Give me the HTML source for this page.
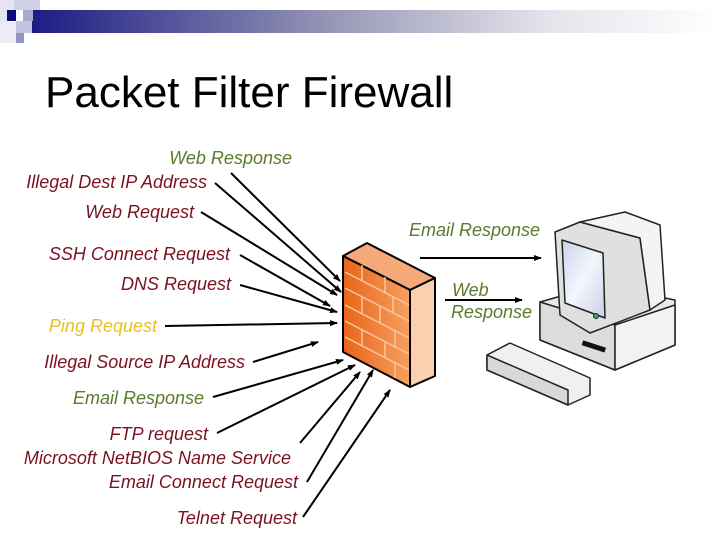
<!DOCTYPE html>
<html><head><meta charset="utf-8"><style>
html,body{margin:0;padding:0;background:#fff;width:720px;height:540px;overflow:hidden}
svg text{font-family:"Liberation Sans",Arial,sans-serif}
.l{font-size:18px;font-style:italic;text-anchor:end}
.r{fill:#7a1222}.g{fill:#5b7a2c}.y{fill:#e8c020}
</style></head><body>
<svg width="720" height="540" viewBox="0 0 720 540" xmlns="http://www.w3.org/2000/svg">
<defs>
<linearGradient id="bar" x1="0" x2="1"><stop offset="0" stop-color="#1c1c84"/><stop offset="0.45" stop-color="#9a9ab8"/><stop offset="0.75" stop-color="#e4e4ec"/><stop offset="1" stop-color="#fff"/></linearGradient>
<linearGradient id="fw" x1="0" y1="0" x2="1" y2="0"><stop offset="0" stop-color="#e8641a"/><stop offset="1" stop-color="#f7a060"/></linearGradient>
<linearGradient id="scr" x1="0" y1="0" x2="1" y2="1"><stop offset="0" stop-color="#c8d4ec"/><stop offset="0.5" stop-color="#f4f6fc"/><stop offset="1" stop-color="#c8d0e8"/></linearGradient>
<marker id="a" markerWidth="8" markerHeight="8" refX="7" refY="4" orient="auto" markerUnits="userSpaceOnUse"><path d="M0,1 L8,4 L0,7z" fill="#000"/></marker>
</defs>
<rect x="32" y="10" width="688" height="23" fill="url(#bar)"/>
<rect x="0" y="0" width="14" height="10" fill="#e4e4f2"/>
<rect x="14" y="0" width="26" height="10" fill="#d0d0e8"/>
<rect x="0" y="10" width="7" height="12" fill="#e4e4f2"/>
<rect x="7" y="10" width="9" height="11" fill="#0c0c7c"/>
<rect x="23" y="10" width="10" height="11" fill="#a8a8d0"/>
<rect x="16" y="21" width="16" height="12" fill="#c4c4e0"/>
<rect x="16" y="33" width="8" height="10" fill="#9494c4"/>
<rect x="0" y="22" width="16" height="21" fill="#ececf6"/>
<text x="45" y="107" font-size="44" fill="#000">Packet Filter Firewall</text>

<g class="l">
<text x="292" y="164" class="g">Web Response</text>
<text x="207" y="188" class="r">Illegal Dest IP Address</text>
<text x="194" y="218" class="r">Web Request</text>
<text x="230" y="260" class="r">SSH Connect Request</text>
<text x="231" y="290" class="r">DNS Request</text>
<text x="157" y="332" class="y">Ping Request</text>
<text x="245" y="368" class="r">Illegal Source IP Address</text>
<text x="204" y="404" class="g">Email Response</text>
<text x="208" y="440" class="r">FTP request</text>
<text x="291" y="464" class="r">Microsoft  NetBIOS Name Service</text>
<text x="298" y="488" class="r">Email Connect Request</text>
<text x="297" y="524" class="r">Telnet Request</text>
<text x="540" y="236" class="g">Email Response</text>
<text x="452" y="296" class="g" text-anchor="start">Web</text>
<text x="532" y="318" class="g">Response</text>
</g>

<g stroke="#000" stroke-width="2" fill="none" marker-end="url(#a)">
<line x1="231" y1="173" x2="340" y2="281"/>
<line x1="215" y1="183" x2="341" y2="292"/>
<line x1="201" y1="212" x2="337" y2="295"/>
<line x1="240" y1="255" x2="330" y2="306"/>
<line x1="240" y1="285" x2="337" y2="312"/>
<line x1="165" y1="326" x2="337" y2="323"/>
<line x1="253" y1="362" x2="318" y2="342"/>
<line x1="213" y1="397" x2="343" y2="360"/>
<line x1="217" y1="433" x2="355" y2="365"/>
<line x1="300" y1="443" x2="360" y2="372"/>
<line x1="307" y1="482" x2="373" y2="370"/>
<line x1="303" y1="517" x2="390" y2="390"/>
<line x1="420" y1="258" x2="541" y2="258"/>
<line x1="445" y1="300" x2="522" y2="300"/>
</g>

<g stroke="#000" stroke-width="2" stroke-linejoin="round">
<polygon points="343,256 367,243 435,278 410,290" fill="#f5a878"/>
<polygon points="410,290 435,278 435,376 410,387" fill="#fbd0b0"/>
<polygon points="343,256 410,290 410,387 343,352" fill="url(#fw)"/>
</g>
<g stroke="#f8c8a0" stroke-width="1.5" fill="none">
<line x1="345" y1="272" x2="409" y2="305"/>
<line x1="345" y1="288" x2="409" y2="321"/>
<line x1="345" y1="305" x2="409" y2="338"/>
<line x1="345" y1="321" x2="409" y2="354"/>
<line x1="345" y1="337" x2="409" y2="370"/>
<line x1="362" y1="265" x2="362" y2="281"/><line x1="385" y1="277" x2="385" y2="293"/>
<line x1="362" y1="298" x2="362" y2="314"/><line x1="393" y1="297" x2="393" y2="313"/>
<line x1="380" y1="307" x2="380" y2="323"/><line x1="395" y1="330" x2="395" y2="346"/>
<line x1="362" y1="330" x2="362" y2="346"/><line x1="385" y1="342" x2="385" y2="358"/>
<line x1="395" y1="362" x2="395" y2="378"/>
</g>

<g stroke="#222" stroke-width="1.5" stroke-linejoin="round">
<polygon points="540,302 600,285 675,300 675,345 615,370 540,340" fill="#e8e8e8"/>
<polygon points="540,302 615,325 615,370 540,340" fill="#dcdcdc"/>
<polygon points="615,325 675,305 675,345 615,370" fill="#f2f2f2"/>
<polygon points="555,232 580,222 640,238 650,310 590,333 560,315" fill="#e0e0e0"/>
<polygon points="580,222 625,212 660,225 665,300 650,310 640,238" fill="#f4f4f4"/>
<polygon points="562,240 603,253 605,318 565,303" fill="url(#scr)"/>
<polygon points="487,355 510,343 590,378 590,395 568,405 487,370" fill="#f0f0f0"/>
<polygon points="487,355 568,390 568,405 487,370" fill="#d8d8d8"/>
</g>
<rect x="582" y="344" width="24" height="5" fill="#111" transform="rotate(18 594 346)"/>
<circle cx="596" cy="316" r="2.5" fill="#3a6" stroke="#222"/>
</svg>
</body></html>
